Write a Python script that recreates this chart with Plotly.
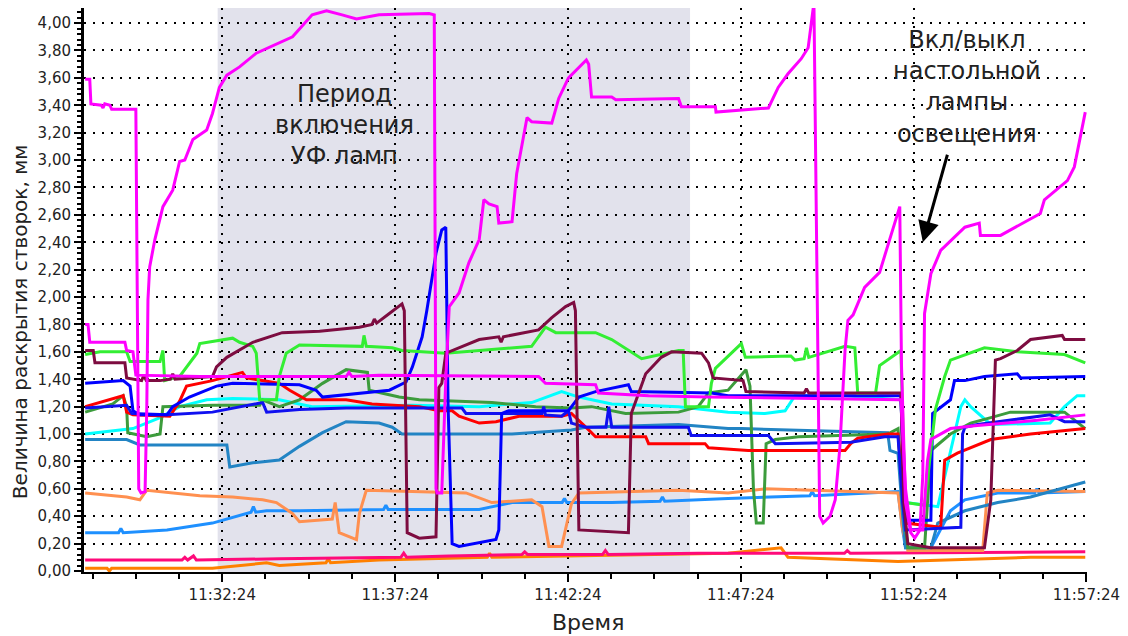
import pandas as pd
import plotly.graph_objects as go

# Recording start; every time list below is seconds elapsed since this moment
START = pd.Timestamp("2024-01-01 11:28:24")
SPAN_S = 1741

# --- series: seconds since start / opening, mm ---
mag_a_t = [2, 10, 12, 30, 33, 36, 45, 48, 90, 95, 99, 106, 109, 111, 114, 123, 137, 154, 166, 175, 189, 213, 223,
           235, 248, 270, 299, 334, 362, 396, 421, 448, 473, 512, 599, 608, 611, 613, 621, 628, 634, 651, 668, 686,
           694, 703, 717, 720, 743, 751, 769, 777, 812, 824, 841, 872, 876, 881, 916, 923, 1032, 1037, 1096, 1097,
           1188, 1205, 1222, 1245, 1257, 1267, 1272, 1277, 1283, 1295, 1304, 1312, 1321, 1326, 1335, 1355,
           1381, 1399, 1416, 1419, 1426, 1435, 1442, 1451, 1456, 1459, 1470, 1487, 1529, 1554, 1556, 1591,
           1660, 1667, 1707, 1719, 1738]
mag_a_v = [3.59, 3.59, 3.41, 3.40, 3.38, 3.41, 3.40, 3.37, 3.37, 0.60, 0.57, 0.58, 1.20, 1.98, 2.22, 2.42, 2.66,
           2.78, 2.99, 3.00, 3.15, 3.22, 3.34, 3.53, 3.62, 3.68, 3.78, 3.85, 3.90, 4.06, 4.09, 4.06, 4.03, 4.06,
           4.07, 4.06, 0.60, 0.57, 0.57, 1.40, 1.93, 2.03, 2.25, 2.42, 2.71, 2.68, 2.66, 2.54, 2.55, 2.90, 3.31,
           3.28, 3.27, 3.45, 3.60, 3.73, 3.70, 3.46, 3.46, 3.44, 3.45, 3.39, 3.39, 3.35, 3.38, 3.53, 3.63, 3.74,
           3.82, 4.15, 2.00, 0.40, 0.35, 0.40, 0.52, 0.90, 1.61, 1.83, 1.87, 2.07, 2.18, 2.42, 2.66, 1.50, 0.50,
           0.28, 0.24, 0.30, 0.70, 1.88, 2.17, 2.34, 2.51, 2.54, 2.45, 2.45, 2.61, 2.71, 2.85, 2.95, 3.35]

mag_b_t = [2, 7, 10, 71, 74, 85, 90, 201, 374, 455, 460, 465, 512, 789, 801, 888, 893, 980, 1084, 1240, 1418, 1426,
           1435, 1456, 1464, 1470, 1504, 1546, 1655, 1738]
mag_b_v = [1.80, 1.80, 1.67, 1.67, 1.61, 1.60, 1.43, 1.42, 1.42, 1.42, 1.45, 1.42, 1.43, 1.42, 1.37, 1.36, 1.30,
           1.28, 1.27, 1.26, 1.25, 0.60, 0.30, 0.30, 0.80, 0.96, 1.04, 1.06, 1.10, 1.14]

maroon_t = [2, 16, 19, 71, 74, 100, 104, 108, 132, 150, 154, 158, 223, 230, 248, 293, 344, 409, 478, 500, 504, 508,
            530, 552, 556, 561, 582, 611, 616, 621, 628, 639, 686, 720, 724, 728, 789, 812, 836, 850, 853, 859, 945,
            950, 975, 1002, 1020, 1072, 1084, 1092, 1144, 1149, 1250, 1254, 1258, 1418, 1423, 1430, 1470, 1563,
            1574, 1582, 1591, 1620, 1643, 1698, 1702, 1738]
maroon_v = [1.61, 1.61, 1.52, 1.52, 1.41, 1.39, 1.43, 1.39, 1.39, 1.40, 1.44, 1.40, 1.42, 1.49, 1.56, 1.67, 1.74,
            1.75, 1.78, 1.80, 1.84, 1.81, 1.88, 1.95, 1.90, 0.28, 0.24, 0.25, 1.34, 1.37, 1.59, 1.61, 1.69, 1.71,
            1.67, 1.71, 1.76, 1.85, 1.93, 1.96, 1.90, 0.30, 0.28, 1.15, 1.44, 1.56, 1.60, 1.59, 1.52, 1.41, 1.39,
            1.31, 1.30, 1.33, 1.30, 1.30, 0.50, 0.20, 0.17, 0.17, 0.52, 1.54, 1.55, 1.61, 1.69, 1.72, 1.69, 1.69]

green_t = [2, 28, 74, 80, 132, 137, 140, 166, 196, 201, 258, 270, 293, 299, 305, 334, 339, 351, 374, 483, 486, 490,
           535, 552, 628, 777, 801, 819, 888, 916, 968, 1032, 1040, 1044, 1084, 1089, 1096, 1141, 1148, 1227, 1234,
           1250, 1254, 1258, 1321, 1338, 1343, 1374, 1381, 1418, 1425, 1459, 1478, 1494, 1504, 1563, 1620, 1702,
           1738]
green_v = [1.58, 1.60, 1.60, 1.53, 1.53, 1.61, 1.39, 1.42, 1.59, 1.66, 1.70, 1.67, 1.64, 1.59, 1.25, 1.25, 1.42,
           1.59, 1.65, 1.64, 1.72, 1.64, 1.63, 1.61, 1.59, 1.64, 1.78, 1.74, 1.74, 1.69, 1.55, 1.61, 1.61, 1.20,
           1.20, 1.37, 1.48, 1.66, 1.56, 1.57, 1.54, 1.55, 1.63, 1.56, 1.64, 1.63, 1.30, 1.30, 1.50, 1.61, 0.50,
           0.48, 1.18, 1.42, 1.54, 1.63, 1.60, 1.58, 1.52]

dkgreen_t = [2, 50, 68, 74, 76, 109, 132, 137, 223, 305, 310, 339, 374, 414, 455, 492, 495, 547, 582, 708, 784, 846,
             881, 940, 1032, 1066, 1084, 1118, 1149, 1156, 1162, 1167, 1179, 1184, 1200, 1240, 1395, 1413, 1421,
             1430, 1459, 1470, 1504, 1539, 1574, 1608, 1702, 1738]
dkgreen_v = [1.16, 1.22, 1.28, 1.20, 1.01, 0.98, 1.00, 1.20, 1.21, 1.21, 1.25, 1.20, 1.25, 1.37, 1.47, 1.45, 1.32,
             1.27, 1.25, 1.23, 1.20, 1.19, 1.20, 1.15, 1.16, 1.20, 1.30, 1.32, 1.47, 1.35, 0.60, 0.35, 0.35, 0.93,
             0.96, 0.98, 1.00, 1.04, 0.50, 0.17, 0.17, 0.88, 1.00, 1.08, 1.12, 1.16, 1.16, 1.04]

red_t = [2, 50, 68, 74, 85, 149, 166, 178, 223, 275, 282, 339, 357, 386, 455, 500, 582, 616, 639, 651, 686, 715,
         755, 829, 846, 876, 888, 975, 980, 1078, 1084, 1153, 1321, 1331, 1343, 1395, 1413, 1421, 1426, 1487, 1494,
         1516, 1574, 1643, 1738]
red_v = [1.20, 1.26, 1.28, 1.16, 1.14, 1.13, 1.24, 1.35, 1.39, 1.45, 1.41, 1.37, 1.32, 1.25, 1.25, 1.22, 1.20, 1.17,
         1.17, 1.13, 1.08, 1.09, 1.13, 1.13, 1.15, 1.03, 0.98, 0.98, 0.93, 0.93, 0.90, 0.88, 0.88, 0.93, 0.97, 1.00,
         1.00, 0.60, 0.35, 0.32, 0.81, 0.86, 0.96, 1.00, 1.04]

blue_a_t = [2, 68, 80, 85, 97, 144, 154, 183, 230, 258, 374, 403, 414, 483, 530, 559, 570, 587, 595, 611, 621, 628,
            632, 639, 651, 715, 720, 725, 737, 841, 846, 859, 888, 945, 950, 1089, 1118, 1418, 1423, 1426, 1470,
            1473, 1504, 1511, 1529, 1563, 1620, 1626, 1738]
blue_a_v = [1.37, 1.39, 1.35, 1.17, 1.14, 1.14, 1.20, 1.27, 1.35, 1.37, 1.36, 1.32, 1.27, 1.30, 1.32, 1.38, 1.49,
            1.71, 1.90, 2.32, 2.49, 2.51, 1.20, 0.20, 0.18, 0.23, 0.30, 1.15, 1.17, 1.17, 1.20, 1.27, 1.31, 1.36,
            1.31, 1.30, 1.28, 1.28, 0.60, 0.37, 0.37, 1.15, 1.25, 1.39, 1.39, 1.42, 1.44, 1.41, 1.42]

blue_b_t = [2, 74, 83, 144, 223, 310, 317, 374, 455, 656, 663, 720, 795, 798, 801, 829, 841, 846, 871, 906, 911, 916,
            1049, 1054, 1188, 1200, 1331, 1390, 1413, 1421, 1426, 1522, 1525, 1529, 1551, 1677, 1702, 1738]
blue_b_v = [1.19, 1.21, 1.15, 1.14, 1.16, 1.23, 1.16, 1.18, 1.19, 1.19, 1.15, 1.15, 1.15, 1.20, 1.14, 1.13, 1.17,
            1.08, 1.05, 1.05, 1.20, 1.05, 1.05, 0.99, 0.99, 0.93, 0.94, 0.98, 0.98, 0.50, 0.30, 0.32, 1.00, 1.05,
            1.07, 1.14, 1.09, 1.09]

cyan_t = [2, 85, 132, 166, 213, 258, 339, 396, 570, 686, 743, 777, 829, 859, 916, 1032, 1118, 1182, 1217, 1234, 1321,
          1418, 1425, 1426, 1482, 1504, 1522, 1529, 1539, 1574, 1677, 1702, 1724, 1738]
cyan_v = [1.00, 1.04, 1.12, 1.20, 1.25, 1.26, 1.25, 1.20, 1.21, 1.20, 1.22, 1.23, 1.31, 1.27, 1.22, 1.20, 1.16, 1.15,
          1.17, 1.28, 1.28, 1.25, 0.60, 0.50, 0.47, 0.88, 1.20, 1.25, 1.20, 1.07, 1.08, 1.20, 1.28, 1.28]

teal_t = [2, 74, 97, 248, 253, 293, 339, 374, 414, 455, 512, 535, 552, 743, 846, 871, 1032, 1118, 1141, 1395, 1399,
          1413, 1421, 1426, 1470, 1482, 1529, 1586, 1643, 1702, 1738]
teal_v = [0.96, 0.96, 0.92, 0.92, 0.76, 0.79, 0.81, 0.91, 1.01, 1.09, 1.08, 1.05, 1.00, 1.00, 1.03, 1.05, 1.07, 1.04,
          1.04, 1.01, 0.88, 0.86, 0.40, 0.17, 0.17, 0.35, 0.44, 0.50, 0.54, 0.61, 0.65]

coral_t = [2, 74, 97, 109, 201, 258, 310, 334, 362, 374, 431, 436, 443, 473, 478, 490, 570, 663, 708, 777, 795, 807,
           829, 846, 859, 1032, 1118, 1182, 1413, 1421, 1430, 1560, 1568, 1586, 1738]
coral_v = [0.57, 0.54, 0.52, 0.59, 0.55, 0.54, 0.52, 0.50, 0.42, 0.36, 0.38, 0.50, 0.28, 0.23, 0.42, 0.59, 0.58,
           0.57, 0.50, 0.52, 0.47, 0.18, 0.18, 0.49, 0.57, 0.59, 0.57, 0.60, 0.57, 0.30, 0.15, 0.15, 0.57, 0.59,
           0.58]

azure_t = [2, 60, 64, 68, 144, 223, 290, 294, 298, 317, 374, 520, 524, 528, 686, 743, 830, 834, 838, 916, 1000, 1004,
           1008, 1118, 1260, 1264, 1268, 1413, 1421, 1426, 1470, 1504, 1529, 1586, 1650, 1654, 1658, 1738]
azure_v = [0.28, 0.28, 0.31, 0.28, 0.30, 0.35, 0.43, 0.47, 0.43, 0.44, 0.44, 0.45, 0.48, 0.45, 0.45, 0.50, 0.50,
           0.53, 0.50, 0.50, 0.51, 0.54, 0.51, 0.53, 0.55, 0.58, 0.55, 0.58, 0.30, 0.17, 0.17, 0.44, 0.52, 0.57,
           0.57, 0.60, 0.57, 0.58]

pink_t = [2, 170, 175, 180, 190, 195, 339, 550, 555, 560, 634, 760, 765, 770, 900, 905, 910, 1066, 1320, 1325, 1330,
          1738]
pink_v = [0.08, 0.08, 0.10, 0.08, 0.11, 0.08, 0.09, 0.10, 0.13, 0.10, 0.11, 0.12, 0.14, 0.12, 0.12, 0.15, 0.12,
          0.13, 0.13, 0.15, 0.13, 0.14]

orange_t = [2, 40, 44, 48, 223, 317, 339, 420, 424, 428, 512, 700, 704, 708, 1118, 1210, 1222, 1413, 1643, 1738]
orange_v = [0.02, 0.02, 0.00, 0.02, 0.02, 0.06, 0.04, 0.06, 0.09, 0.06, 0.08, 0.10, 0.13, 0.10, 0.13, 0.17, 0.10,
            0.07, 0.10, 0.10]

# drawing order: first listed ends up at the bottom
SERIES = [
    (orange_t, orange_v, "#ff8000"),
    (pink_t, pink_v, "#ff0a7a"),
    (azure_t, azure_v, "#1e90ff"),
    (coral_t, coral_v, "#ff9050"),
    (teal_t, teal_v, "#2284c4"),
    (cyan_t, cyan_v, "#00ffff"),
    (dkgreen_t, dkgreen_v, "#3c9c3c"),
    (red_t, red_v, "#ff0000"),
    (blue_b_t, blue_b_v, "#1010f0"),
    (blue_a_t, blue_a_v, "#0000ff"),
    (green_t, green_v, "#33ee33"),
    (maroon_t, maroon_v, "#7d0c40"),
    (mag_b_t, mag_b_v, "#ff00ff"),
    (mag_a_t, mag_a_v, "#ff00ff"),
]


def at(sec):
    return START + pd.Timedelta(seconds=sec)


fig = go.Figure()
for t, v, color in SERIES:
    fig.add_trace(go.Scatter(x=[at(s) for s in t], y=v, mode="lines",
                             line=dict(color=color, width=3), showlegend=False))

FONT = "DejaVu Sans"
GRID = dict(showgrid=True, gridcolor="black", gridwidth=2, griddash="2px,7px")

# UV lamp period
fig.add_shape(type="rect", xref="x", yref="paper", x0=at(232), x1=at(1052), y0=0, y1=1,
              fillcolor="#e2e2ec", line_width=0, layer="below")

fig.add_annotation(x=at(452), y=3.255, text="Период<br>включения<br>УФ ламп", showarrow=False,
                   font=dict(family=FONT, size=24, color="#222222"), xanchor="center", yanchor="middle")
fig.add_annotation(x=at(1532), y=3.537, text="Вкл/выкл<br>настольной<br>лампы<br>освещения", showarrow=False,
                   font=dict(family=FONT, size=24, color="#222222"), xanchor="center", yanchor="middle")
fig.add_annotation(x=at(1456), y=2.40, ax=25, ay=-89, text="", showarrow=True,
                   arrowhead=2, arrowsize=1.4, arrowwidth=3, arrowcolor="black")

# axis titles
fig.add_annotation(xref="paper", yref="paper", x=(589 - 84) / 1005, y=-0.0887, text="Время", showarrow=False,
                   font=dict(family=FONT, size=22, color="#222222"), xanchor="center", yanchor="middle")
fig.add_annotation(xref="paper", yref="paper", x=(20 - 84) / 1005, y=(572 - 322) / 564,
                   text="Величина раскрытия створок, мм", textangle=-90, showarrow=False,
                   font=dict(family=FONT, size=20, color="#222222"), xanchor="center", yanchor="middle")

fig.update_layout(
    width=1128, height=636,
    margin=dict(l=84, r=39, t=8, b=64),
    paper_bgcolor="white", plot_bgcolor="white",
    separators=", ",
    font=dict(family=FONT, color="#222222"),
    xaxis=dict(type="date", range=[START, at(SPAN_S)], tickmode="linear", tick0=at(240), dtick=300000,
               tickformat="%H:%M:%S", tickfont=dict(size=15), ticks="outside", ticklen=8, tickwidth=2,
               tickcolor="black", showline=True, linecolor="black", linewidth=2, zeroline=False,
               minor=dict(tickmode="linear", tick0=at(240), dtick=75000, ticks="outside", ticklen=5,
                          tickwidth=2, tickcolor="black", showgrid=False),
               **GRID),
    yaxis=dict(range=[-0.007, 4.11], tickmode="linear", tick0=0, dtick=0.2, tickformat=".2f",
               tickfont=dict(size=15), ticks="outside", ticklen=7, tickwidth=2, tickcolor="black",
               showline=True, linecolor="black", linewidth=3, zeroline=False,
               minor=dict(tickmode="linear", tick0=0, dtick=0.04, ticks="outside", ticklen=4, tickwidth=2,
                          tickcolor="black", showgrid=False),
               **GRID),
)

fig.write_html("out.html")
